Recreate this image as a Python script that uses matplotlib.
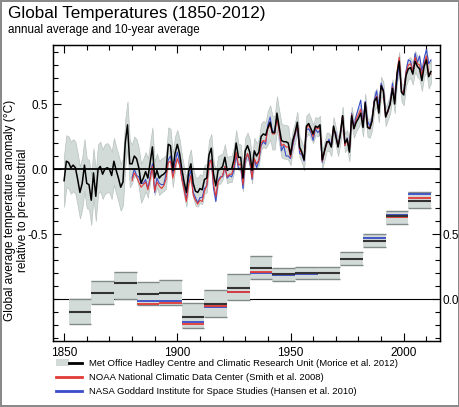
import numpy as np
import matplotlib
matplotlib.use("Agg")
import matplotlib.pyplot as plt
from matplotlib.ticker import FixedLocator, MultipleLocator
from matplotlib.patches import Patch
from matplotlib.lines import Line2D
from matplotlib.legend_handler import HandlerTuple

plt.rcParams['font.family'] = ['Liberation Sans', 'DejaVu Sans']
plt.rcParams['axes.unicode_minus'] = False

# annual anomalies (relative to pre-industrial)
had_years = np.arange(1850, 2013)
had_annual = [
    -0.09, 0.06, 0.05, 0.01, 0.03, 0.01, -0.08, -0.18, -0.11, 0.03,
    -0.11, -0.12, -0.24, -0.03, -0.21, 0.00, 0.02, -0.04, 0.00, 0.01,
    0.00, -0.05, 0.06, -0.01, -0.07, -0.14, -0.10, 0.20, 0.34, 0.04,
    0.04, 0.10, 0.08, 0.01, -0.11, -0.07, -0.02, -0.07, 0.05, 0.17,
    -0.07, -0.01, -0.07, -0.05, -0.04, -0.02, 0.19, 0.18, -0.01, 0.12,
    0.19, 0.12, 0.00, -0.10, -0.18, -0.02, 0.04, -0.11, -0.17, -0.18,
    -0.15, -0.16, -0.08, -0.07, 0.11, 0.16, -0.04, -0.13, -0.01, 0.00,
    0.02, 0.09, -0.01, 0.00, 0.00, 0.07, 0.20, 0.09, 0.09, -0.07,
    0.14, 0.18, 0.13, -0.01, 0.14, 0.10, 0.13, 0.25, 0.27, 0.26,
    0.32, 0.36, 0.28, 0.28, 0.43, 0.32, 0.22, 0.21, 0.21, 0.20,
    0.11, 0.22, 0.28, 0.36, 0.17, 0.13, 0.07, 0.33, 0.35, 0.31,
    0.27, 0.33, 0.32, 0.34, 0.07, 0.14, 0.21, 0.21, 0.17, 0.33,
    0.25, 0.17, 0.27, 0.41, 0.20, 0.23, 0.13, 0.41, 0.31, 0.36,
    0.39, 0.43, 0.32, 0.51, 0.32, 0.31, 0.37, 0.52, 0.55, 0.43,
    0.64, 0.60, 0.40, 0.45, 0.50, 0.62, 0.50, 0.73, 0.83, 0.59,
    0.57, 0.72, 0.77, 0.78, 0.73, 0.83, 0.79, 0.77, 0.68, 0.79,
    0.84, 0.71, 0.75,
]
# 5-95% range half width per decade (1850s ... 2010s)
had_unc_decade = [0.20, 0.19, 0.18, 0.15, 0.13, 0.11, 0.11, 0.10, 0.10, 0.13,
                  0.08, 0.07, 0.07, 0.07, 0.07, 0.08, 0.09]

other_years = np.arange(1880, 2013)
noaa_annual = [
    -0.09, -0.03, -0.06, -0.10, -0.14, -0.12, -0.10, -0.16, -0.08, 0.02,
    -0.17, -0.10, -0.13, -0.15, -0.13, -0.08, 0.05, 0.06, -0.07, 0.01,
    0.08, 0.03, -0.08, -0.16, -0.25, -0.12, -0.05, -0.20, -0.24, -0.27,
    -0.24, -0.25, -0.17, -0.13, 0.03, 0.07, -0.12, -0.21, -0.10, -0.07,
    -0.05, 0.02, -0.06, -0.04, -0.04, 0.02, 0.13, 0.03, 0.04, -0.12,
    0.07, 0.12, 0.07, -0.07, 0.08, 0.04, 0.07, 0.20, 0.22, 0.21,
    0.31, 0.34, 0.27, 0.27, 0.39, 0.29, 0.18, 0.19, 0.17, 0.17,
    0.09, 0.20, 0.27, 0.34, 0.15, 0.12, 0.07, 0.31, 0.34, 0.30,
    0.25, 0.32, 0.31, 0.32, 0.06, 0.13, 0.20, 0.21, 0.17, 0.32,
    0.26, 0.17, 0.27, 0.41, 0.18, 0.23, 0.14, 0.42, 0.31, 0.38,
    0.42, 0.46, 0.33, 0.51, 0.33, 0.31, 0.37, 0.52, 0.56, 0.44,
    0.64, 0.60, 0.40, 0.44, 0.50, 0.63, 0.52, 0.74, 0.86, 0.60,
    0.59, 0.74, 0.80, 0.81, 0.75, 0.86, 0.81, 0.80, 0.72, 0.81,
    0.87, 0.74, 0.73,
]
nasa_annual = [
    -0.07, 0.00, -0.05, -0.06, -0.11, -0.11, -0.08, -0.15, -0.06, 0.04,
    -0.18, -0.07, -0.11, -0.12, -0.12, -0.04, 0.07, 0.10, -0.04, 0.05,
    0.13, 0.06, -0.06, -0.15, -0.24, -0.07, -0.01, -0.18, -0.22, -0.26,
    -0.22, -0.22, -0.15, -0.13, 0.06, 0.07, -0.15, -0.25, -0.09, -0.06,
    -0.06, 0.02, -0.07, -0.05, -0.06, -0.01, 0.11, 0.00, 0.01, -0.15,
    0.05, 0.12, 0.05, -0.08, 0.08, 0.01, 0.06, 0.18, 0.21, 0.19,
    0.34, 0.40, 0.28, 0.30, 0.41, 0.30, 0.14, 0.18, 0.10, 0.10,
    0.08, 0.18, 0.26, 0.33, 0.12, 0.11, 0.06, 0.30, 0.31, 0.28,
    0.22, 0.31, 0.28, 0.30, 0.05, 0.14, 0.19, 0.23, 0.17, 0.30,
    0.28, 0.17, 0.26, 0.41, 0.18, 0.24, 0.15, 0.43, 0.32, 0.41,
    0.47, 0.53, 0.35, 0.52, 0.37, 0.33, 0.39, 0.53, 0.60, 0.48,
    0.66, 0.61, 0.43, 0.44, 0.52, 0.66, 0.54, 0.67, 0.82, 0.59,
    0.60, 0.75, 0.84, 0.83, 0.75, 0.89, 0.82, 0.87, 0.75, 0.85,
    0.92, 0.81, 0.84,
]

# decadal means (right axis), decades 1853-1862 ... 2003-2012
decade_start = np.arange(1853, 2013, 10)
had_dec = [-0.10, 0.05, 0.12, 0.035, 0.047, -0.136, -0.037, 0.085,
           0.24, 0.19, 0.20, 0.20, 0.31, 0.45, 0.64, 0.757]
had_dec_lo = [-0.19, -0.04, 0.0, -0.05, -0.05, -0.225, -0.14, -0.01,
              0.157, 0.14, 0.154, 0.154, 0.265, 0.40, 0.58, 0.70]
had_dec_hi = [0.0, 0.14, 0.21, 0.13, 0.15, -0.034, 0.07, 0.19,
              0.33, 0.24, 0.246, 0.246, 0.36, 0.50, 0.675, 0.82]
noaa_dec = [-0.037, -0.03, -0.195, -0.057, 0.052, 0.21, 0.19, 0.20,
            0.20, 0.31, 0.45, 0.632, 0.78]
nasa_dec = [-0.017, -0.014, -0.174, -0.065, 0.052, 0.20, 0.185, 0.195,
            0.20, 0.31, 0.467, 0.647, 0.81]

RED = '#e23a36'
BLUE = '#3a4cc8'
BAND = '#d3dbd9'
BAND_EDGE = '#808a88'
shift = 1.0  # right axis = left axis + shift

fig = plt.figure(figsize=(4.6, 4.07), dpi=100)
fig.patch.set_edgecolor('#8a8a8a')
fig.patch.set_linewidth(1.5)
ax = fig.add_axes([0.1152, 0.1622, 0.8413, 0.7272])

# annual band and lines
had = np.array(had_annual)
unc = np.repeat(had_unc_decade, 10)[:len(had)]
ax.fill_between(had_years, had - unc, had + unc, color=BAND,
                edgecolor='#b8c2c0', linewidth=0.5, zorder=1)
ax.plot(other_years, nasa_annual, color=BLUE, lw=0.8, zorder=2)
ax.plot(other_years, noaa_annual, color=RED, lw=0.8, zorder=3)
ax.plot(had_years, had, color='black', lw=1.1, zorder=4)

# zero lines
ax.axhline(0, color='black', lw=1.3, zorder=5)
ax.axhline(-shift, color='black', lw=0.8, zorder=1)

# decadal boxes
left = decade_start - 1
lo = np.array(had_dec_lo) - shift
hi = np.array(had_dec_hi) - shift
ax.bar(left, hi - lo, bottom=lo, width=10, align='edge', color=BAND,
       linewidth=0, zorder=2)
ax.hlines(lo, left, left + 10, color=BAND_EDGE, lw=1.0, zorder=3)
ax.hlines(hi, left, left + 10, color=BAND_EDGE, lw=1.0, zorder=3)
n = len(nasa_dec)
ax.hlines(np.array(nasa_dec) - shift, left[-n:], left[-n:] + 10,
          color=BLUE, lw=1.3, zorder=4)
ax.hlines(np.array(noaa_dec) - shift, left[-n:], left[-n:] + 10,
          color=RED, lw=1.3, zorder=5)
ax.hlines(np.array(had_dec) - shift, left, left + 10,
          color='#333333', lw=1.5, zorder=6)

ax.set_xlim(1845.1, 2016)
ax.set_ylim(-1.323, 0.954)
ax.xaxis.set_major_locator(FixedLocator([1850, 1900, 1950, 2000]))
ax.xaxis.set_minor_locator(MultipleLocator(10))
ax.yaxis.set_major_locator(FixedLocator([-0.5, 0.0, 0.5]))
ax.yaxis.set_minor_locator(MultipleLocator(0.1))
ax.yaxis.set_major_formatter(lambda v, p: f'{v:.1f}')
ax.tick_params(which='both', direction='in', top=True, labelsize=8.5,
               width=0.8)
ax.tick_params(which='major', length=6)
ax.tick_params(which='minor', length=3.5)
ax.tick_params(axis='x', pad=4)

ax2 = ax.twinx()
ax2.set_ylim(-1.323 + shift, 0.954 + shift)
ax2.yaxis.set_major_locator(FixedLocator([0.0, 0.5]))
ax2.yaxis.set_minor_locator(MultipleLocator(0.1))
ax2.yaxis.set_major_formatter(lambda v, p: f'{v:.1f}')
ax2.tick_params(which='both', direction='in', labelsize=8.5, width=0.8,
                pad=2)
ax2.tick_params(which='major', length=6)
ax2.tick_params(which='minor', length=3.5)

for a in (ax, ax2):
    for s in a.spines.values():
        s.set_linewidth(0.9)

ax.set_ylabel('Global average temperature anomaly (\u00b0C)\nrelative to pre-industrial',
              fontsize=8.6, linespacing=1.1)
ax.yaxis.set_label_coords(-0.061, 0.44)

fig.text(0.017, 0.968, 'Global Temperatures (1850-2012)', fontsize=12.3,
         va='center', ha='left')
fig.text(0.017, 0.927, 'annual average and 10-year average', fontsize=8.4,
         va='center', ha='left')

handles = [(Patch(facecolor=BAND, edgecolor='none'),
            Line2D([], [], color='black', lw=2)),
           Line2D([], [], color=RED, lw=2),
           Line2D([], [], color=BLUE, lw=2)]
labels = ['Met Office Hadley Centre and Climatic Research Unit (Morice et al. 2012)',
          'NOAA National Climatic Data Center (Smith et al. 2008)',
          'NASA Goddard Institute for Space Studies (Hansen et al. 2010)']
fig.legend(handles, labels, loc='upper left', bbox_to_anchor=(0.122, 0.118),
           frameon=False, fontsize=6.8, handlelength=2.7, handletextpad=0.8,
           labelspacing=0.55, borderaxespad=0, borderpad=0,
           handler_map={tuple: HandlerTuple(ndivide=None)})

fig.savefig('out.png', dpi=100)
